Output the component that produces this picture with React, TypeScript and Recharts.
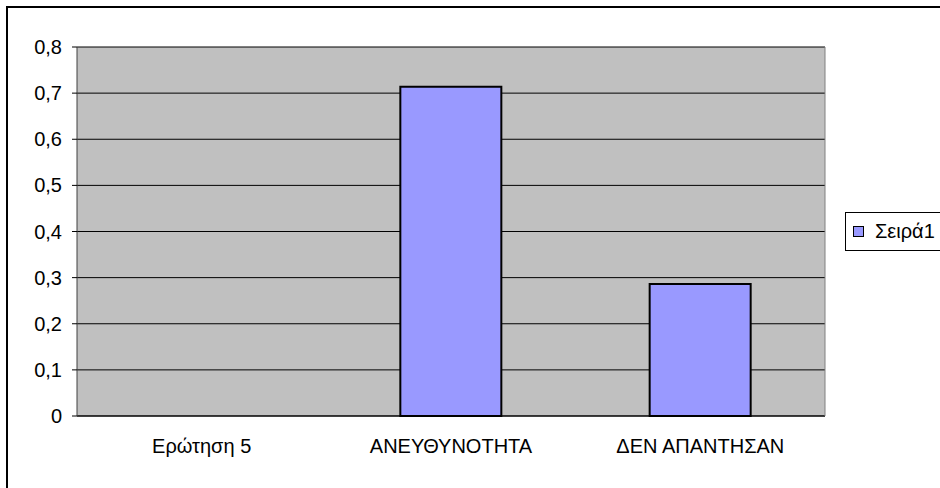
import { BarChart, Bar, XAxis, YAxis, CartesianGrid } from 'recharts';

const categories = ['Ερώτηση 5', 'ΑΝΕΥΘΥΝΟΤΗΤΑ', 'ΔΕΝ ΑΠΑΝΤΗΣΑΝ'];
const seriesName = 'Σειρά1';
const seriesValues: (number | null)[] = [null, 0.714, 0.286];
const yTicks = [0, 0.1, 0.2, 0.3, 0.4, 0.5, 0.6, 0.7, 0.8];
// tick marks sit between categories, not under them
const edgeTicks = [0, 1, 2, 3];

const data = categories.map((name, i) => ({ name, value: seriesValues[i] }));

const BAR_FILL = '#9999FF';
const FONT = '"Liberation Sans", Arial, sans-serif';

const fmt = (v: number) => (v === 0 ? '0' : v.toFixed(1).replace('.', ','));

function LegendBox() {
  return (
    <div
      style={{
        position: 'absolute',
        left: 845,
        top: 212,
        border: '1px solid #000',
        background: '#fff',
        width: 110,
        height: 39,
        boxSizing: 'border-box',
        display: 'flex',
        alignItems: 'center',
        paddingLeft: 7,
        fontSize: 20,
        fontFamily: FONT,
        color: '#000',
      }}
    >
      <span
        style={{
          display: 'inline-block',
          width: 9,
          height: 9,
          background: BAR_FILL,
          border: '1.5px solid #000',
          marginRight: 11,
        }}
      />
      <span>{seriesName}</span>
    </div>
  );
}

export default function App() {
  return (
    <div
      style={{
        position: 'absolute',
        left: 0,
        top: 0,
        width: 940,
        height: 488,
        overflow: 'hidden',
        background: '#fff',
        fontFamily: FONT,
      }}
    >
      <div
        style={{
          position: 'absolute',
          left: 6,
          top: 6,
          width: 1000,
          height: 600,
          borderLeft: '2px solid #000',
          borderTop: '2px solid #000',
        }}
      />
      <div style={{ position: 'absolute', left: 0, top: 0 }}>
        <BarChart
          width={940}
          height={488}
          data={data}
          margin={{ top: 47, right: 114, left: 0, bottom: 0 }}
          barCategoryGap="59%"
        >
          <CartesianGrid
            yAxisId={0}
            xAxisId={1}
            vertical={false}
            fill="#C0C0C0"
            fillOpacity={1}
            stroke="#000"
          />
          <XAxis
            xAxisId={0}
            type="number"
            domain={[0, 3]}
            ticks={edgeTicks}
            tick={false}
            tickSize={5}
            height={6}
            axisLine={{ stroke: '#000' }}
            tickLine={{ stroke: '#000' }}
          />
          <XAxis
            xAxisId={1}
            dataKey="name"
            interval={0}
            height={66}
            axisLine={false}
            tickLine={false}
            tickSize={0}
            tickMargin={17}
            tick={{ fill: '#000', fontSize: 20, fontFamily: FONT }}
          />
          <YAxis
            yAxisId={0}
            domain={[0, 0.8]}
            ticks={yTicks}
            width={77}
            tickSize={5}
            tickMargin={10}
            tickFormatter={fmt}
            axisLine={{ stroke: '#404040' }}
            tickLine={{ stroke: '#000' }}
            tick={{ fill: '#000', fontSize: 20, fontFamily: FONT }}
          />
          <YAxis
            yAxisId={1}
            orientation="right"
            domain={[0, 0.8]}
            width={1}
            tick={false}
            tickLine={false}
            axisLine={{ stroke: '#808080' }}
          />
          <Bar
            xAxisId={1}
            yAxisId={0}
            dataKey="value"
            name={seriesName}
            fill={BAR_FILL}
            stroke="#000"
            strokeWidth={2}
            barSize={101}
            isAnimationActive={false}
          />
        </BarChart>
      </div>
      <LegendBox />
    </div>
  );
}
